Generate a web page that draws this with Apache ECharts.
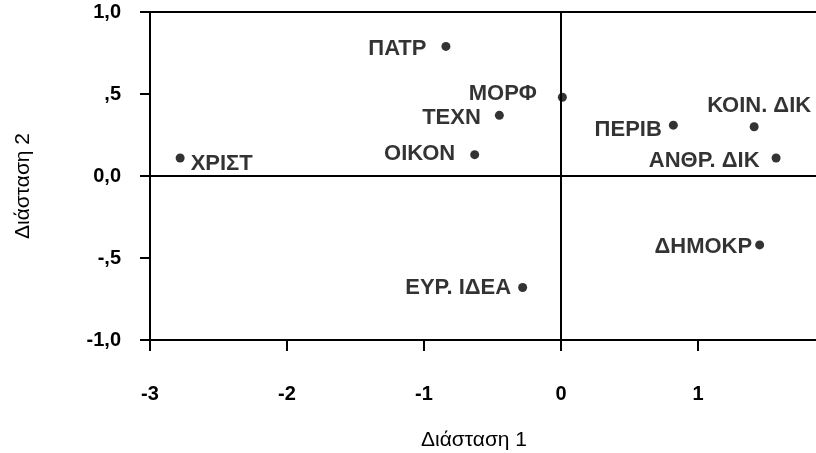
<!DOCTYPE html>
<html>
<head>
<meta charset="utf-8">
<script src="https://cdn.jsdelivr.net/npm/echarts@6/dist/echarts.min.js"></script>
<style>
  html, body { margin: 0; padding: 0; background: #fff; }
  #chart { width: 816px; height: 453px; }
</style>
</head>
<body>
<div id="chart"></div>
<script>
  // σημεία (Διάσταση 1, Διάσταση 2)
  var names = ['ΧΡΙΣΤ', 'ΠΑΤΡ', 'ΜΟΡΦ', 'ΤΕΧΝ', 'ΟΙΚΟΝ', 'ΠΕΡΙΒ', 'ΚΟΙΝ. ΔΙΚ', 'ΑΝΘΡ. ΔΙΚ', 'ΔΗΜΟΚΡ', 'ΕΥΡ. ΙΔΕΑ'];
  var dim1 = [-2.78, -0.84, 0.01, -0.45, -0.63, 0.82, 1.41, 1.57, 1.45, -0.28];
  var dim2 = [0.11, 0.79, 0.48, 0.37, 0.13, 0.31, 0.30, 0.11, -0.42, -0.68];
  var xTicks = [-3, -2, -1, 0, 1, 2];
  var yTicks = [-1, -0.5, 0, 0.5, 1];

  // θέση ετικέτας για κάθε σημείο
  var labelPlace = [
    { position: 'right', distance: 6, offset: [0, 6] },
    { position: 'left', distance: 15, offset: [0, 2] },
    { position: 'left', distance: 21, offset: [0, -3] },
    { position: 'left', distance: 14, offset: [0, 3] },
    { position: 'left', distance: 15, offset: [0, -1] },
    { position: 'left', distance: 7, offset: [0, 5] },
    { position: 'top', distance: 5, offset: [5, 0] },
    { position: 'left', distance: 12, offset: [0, 3] },
    { position: 'left', distance: 3, offset: [0, 2] },
    { position: 'left', distance: 7, offset: [0, 0] }
  ];

  function yFmt(v) {
    var s = v.toFixed(1).replace('.', ',');
    if (s.indexOf('0,') === 0 && v !== 0) s = s.slice(1);
    if (s.indexOf('-0,') === 0) s = '-' + s.slice(2);
    return s;
  }

  var points = [];
  for (var i = 0; i < names.length; i++) {
    points.push({
      name: names[i],
      value: [dim1[i], dim2[i]],
      label: labelPlace[i]
    });
  }

  // το σκαναρισμένο διάγραμμα κόβεται λίγο πριν από το 2
  var plotLeft = 150, unit = 137;
  var xMax = xTicks[0] + (816 - plotLeft) / unit;
  var shownX = xTicks.filter(function (v) { return v <= xMax; });

  var font = 'Liberation Sans, Arial, sans-serif';
  var chart = echarts.init(document.getElementById('chart'));
  chart.setOption({
    animation: false,
    grid: { left: plotLeft, top: 12, bottom: 113, right: 0, outerBoundsMode: 'none', containLabel: false },
    xAxis: [{
      type: 'value',
      min: xTicks[0], max: xMax, interval: 1,
      name: 'Διάσταση 1', nameLocation: 'middle', nameGap: 90,
      nameTextStyle: { color: '#000', fontSize: 21, fontFamily: font, padding: [0, 18, 0, 0] },
      axisLine: { onZero: false, lineStyle: { color: '#000', width: 2 } },
      axisTick: { length: 11, customValues: shownX, lineStyle: { color: '#000', width: 2 } },
      splitLine: { show: false },
      axisLabel: { margin: 44, customValues: shownX, color: '#000', fontSize: 20, fontWeight: 'bold', fontFamily: font }
    }, {
      type: 'value',
      position: 'top',
      min: xTicks[0], max: xMax,
      axisLine: { onZero: false, lineStyle: { color: '#000', width: 2 } },
      axisTick: { show: false },
      axisLabel: { show: false },
      splitLine: { show: false }
    }],
    yAxis: {
      type: 'value',
      min: yTicks[0], max: yTicks[yTicks.length - 1], interval: 0.5,
      name: 'Διάσταση 2', nameLocation: 'middle', nameGap: 116, nameRotate: 90,
      nameTextStyle: { color: '#000', fontSize: 21, fontFamily: font, padding: [0, 20, 0, 0] },
      axisLine: { onZero: false, lineStyle: { color: '#000', width: 2 } },
      axisTick: { length: 10, lineStyle: { color: '#000', width: 2 } },
      splitLine: { show: false },
      axisLabel: { margin: 29, color: '#000', fontSize: 20, fontWeight: 'bold', fontFamily: font, formatter: yFmt }
    },
    series: [{
      type: 'scatter',
      symbol: 'circle',
      symbolSize: 9,
      itemStyle: { color: '#000' },
      label: {
        show: true,
        formatter: '{b}',
        color: '#000',
        fontSize: 22,
        fontWeight: 'bold',
        fontFamily: font
      },
      data: points,
      markLine: {
        silent: true,
        symbol: 'none',
        label: { show: false },
        lineStyle: { color: '#000', width: 2, type: 'solid' },
        data: [{ xAxis: 0 }, { yAxis: 0 }]
      }
    }]
  });
</script>
</body>
</html>
